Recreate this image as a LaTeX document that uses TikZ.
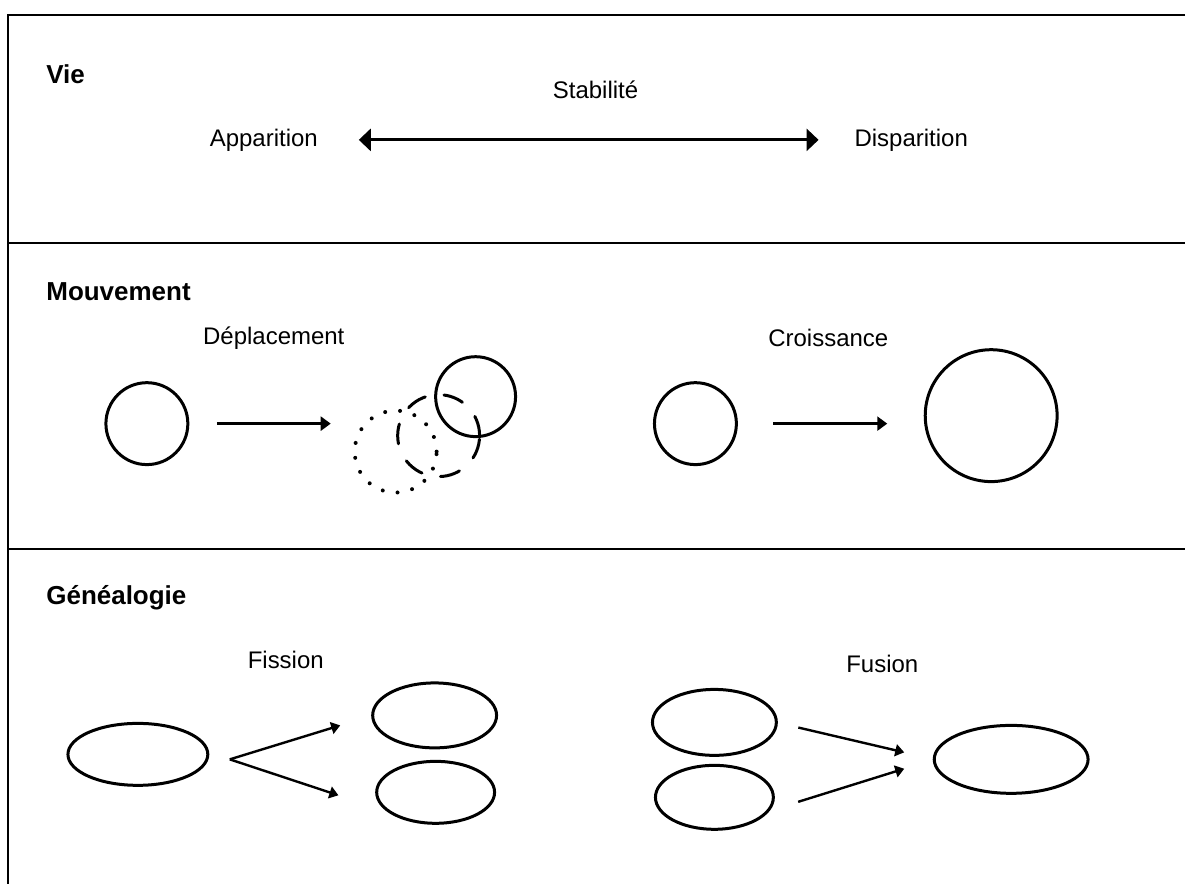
\documentclass[tikz,border=0pt]{standalone}
\usepackage{fontspec}
\setmainfont{Liberation Sans}
\usetikzlibrary{positioning,shapes.geometric,arrows.meta}

\begin{document}
\begin{tikzpicture}[x=0.5pt, y=-0.5pt,
    txt/.style={font=\fontsize{12}{14}\selectfont},
    title/.style={font=\fontsize{13}{15}\selectfont\bfseries, anchor=west, inner sep=0pt},
    roundnode/.style={circle, draw, line width=1.5pt, inner sep=0pt, outer sep=0pt},
    ovalnode/.style={ellipse, draw, line width=1.5pt, inner sep=0pt, outer sep=0pt},
    lifearrow/.style={{Triangle[length=6pt,width=11pt]}-{Triangle[length=6pt,width=11pt]}, line width=1.5pt},
    movearrow/.style={-{Triangle[length=5pt,width=7pt]}, line width=1.2pt},
    genarrow/.style={-{Triangle[length=4.5pt,width=6pt]}, line width=1.2pt},
    frameline/.style={line width=1pt}]
    \fill[white] (0,0) rectangle (1186,885);
    % frame
    \draw[frameline] (1186,15) -- (8,15) -- (8,885);
    \draw[frameline] (8,243) -- (1186,243);
    \draw[frameline] (8,549) -- (1186,549);
    % titles
    \node[title] (vie)  at (46,74)  {Vie};
    \node[title] (mouv) at (46,292) {Mouvement};
    \node[title] (gen)  at (46,598) {Généalogie};
    % vie
    \node[txt] (stab) at (596,90)  {Stabilité};
    \node[txt] (app)  at (264,140) {Apparition};
    \node[txt] (disp) at (912,140) {Disparition};
    \draw[lifearrow, shorten <=17pt, shorten >=14.5pt] (app.east) -- (disp.west);
    % mouvement
    \node[txt] (depl) at (274,338) {Déplacement};
    \node[roundnode, minimum size=41pt] (dep1) at (147,424) {};
    \node[roundnode, minimum size=41pt, line width=2pt, line cap=round, dash pattern=on 0pt off 7.5pt] (depDot) at (396,452) {};
    \node[roundnode, minimum size=41pt, line cap=round, dash pattern=on 10pt off 9.5pt] (depDash) at (439,436) {};
    \node[roundnode, minimum size=40pt] (depNow) at (476,397) {};
    \draw[movearrow, shorten <=14.5pt, shorten >=12pt] (dep1.east) -- (dep1.east -| depDot.west);
    \node[txt] (crois) at (829,338) {Croissance};
    \node[roundnode, minimum size=41pt] (cro1) at (696,424) {};
    \node[roundnode, minimum size=66pt] (cro2) at (992,416) {};
    \draw[movearrow, shorten <=18.5pt, shorten >=19pt] (cro1.east) -- (cro1.east -| cro2.west);
    % genealogie
    \node[txt] (fis) at (286,660) {Fission};
    \node[ovalnode, minimum width=70pt, minimum height=31pt] (fisL) at (138,755) {};
    \node[ovalnode, minimum width=62pt, minimum height=32.5pt] (fisU) at (435,716) {};
    \node[ovalnode, minimum width=59pt, minimum height=31pt] (fisD) at (436,793) {};
    \coordinate (fisV) at (230,760);
    \draw[genarrow, shorten >=17pt] (fisV) -- (fisU.west);
    \draw[genarrow, shorten >=28pt] (fisV) -- (fisD.205);
    \node[txt] (fus) at (883,664) {Fusion};
    \node[ovalnode, minimum width=62pt, minimum height=33pt] (fuU) at (715,723) {};
    \node[ovalnode, minimum width=59pt, minimum height=32pt] (fuD) at (715,798) {};
    \node[ovalnode, minimum width=77pt, minimum height=34pt] (fuR) at (1012,760) {};
    \draw[genarrow, shorten <=11.3pt, shorten >=15.4pt] (fuU.east) -- (fuR.west);
    \draw[genarrow, shorten <=16.2pt, shorten >=15.7pt] (fuD.-15) -- (fuR.west);
\end{tikzpicture}
\end{document}
